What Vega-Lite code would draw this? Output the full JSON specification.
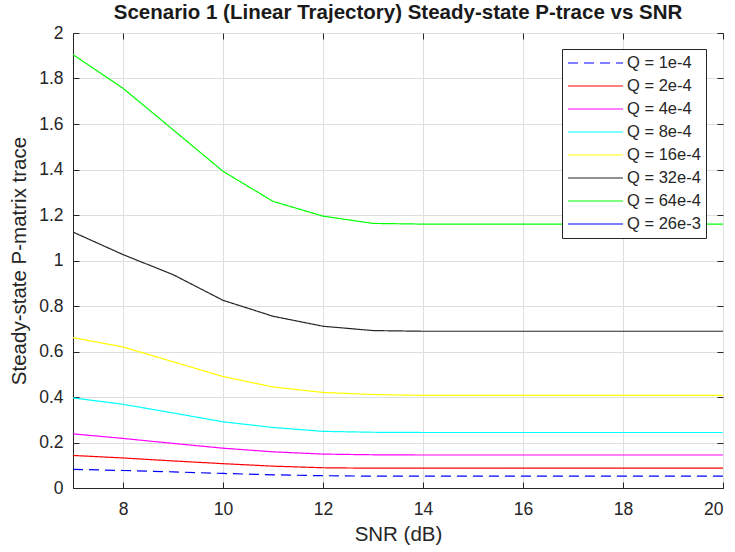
{
  "$schema": "https://vega.github.io/schema/vega-lite/v6.json",
  "width": 650,
  "height": 455,
  "autosize": {"type": "none"},
  "padding": {"left": 73, "top": 33, "right": 12, "bottom": 64},
  "background": "white",
  "config": {
    "font": "Liberation Sans",
    "view": {"stroke": "#262626", "strokeWidth": 1},
    "axis": {"labelFont": "Liberation Sans", "titleFont": "Liberation Sans", "labelColor": "#262626", "titleColor": "#262626", "domainColor": "#262626", "tickColor": "#262626", "gridColor": "#dedede", "labelFontSize": 17.5, "titleFontSize": 20.5, "titleFontWeight": "normal"}
  },
  "title": {"text": "Scenario 1 (Linear Trajectory) Steady-state P-trace vs SNR", "fontSize": 20.5, "fontWeight": "bold", "color": "#1a1a1a", "font": "Liberation Sans", "anchor": "middle", "offset": 1},
  "data": {"values": [
    {"snr":7,"q":"Q = 1e-4","v":0.082},{"snr":8,"q":"Q = 1e-4","v":0.077},{"snr":9,"q":"Q = 1e-4","v":0.071},{"snr":10,"q":"Q = 1e-4","v":0.064},{"snr":11,"q":"Q = 1e-4","v":0.058},{"snr":12,"q":"Q = 1e-4","v":0.054},{"snr":13,"q":"Q = 1e-4","v":0.052},{"snr":14,"q":"Q = 1e-4","v":0.052},{"snr":15,"q":"Q = 1e-4","v":0.052},{"snr":16,"q":"Q = 1e-4","v":0.052},{"snr":17,"q":"Q = 1e-4","v":0.052},{"snr":18,"q":"Q = 1e-4","v":0.052},{"snr":19,"q":"Q = 1e-4","v":0.052},{"snr":20,"q":"Q = 1e-4","v":0.052},
    {"snr":7,"q":"Q = 2e-4","v":0.143},{"snr":8,"q":"Q = 2e-4","v":0.132},{"snr":9,"q":"Q = 2e-4","v":0.119},{"snr":10,"q":"Q = 2e-4","v":0.107},{"snr":11,"q":"Q = 2e-4","v":0.096},{"snr":12,"q":"Q = 2e-4","v":0.089},{"snr":13,"q":"Q = 2e-4","v":0.087},{"snr":14,"q":"Q = 2e-4","v":0.087},{"snr":15,"q":"Q = 2e-4","v":0.087},{"snr":16,"q":"Q = 2e-4","v":0.087},{"snr":17,"q":"Q = 2e-4","v":0.087},{"snr":18,"q":"Q = 2e-4","v":0.087},{"snr":19,"q":"Q = 2e-4","v":0.087},{"snr":20,"q":"Q = 2e-4","v":0.087},
    {"snr":7,"q":"Q = 4e-4","v":0.238},{"snr":8,"q":"Q = 4e-4","v":0.218},{"snr":9,"q":"Q = 4e-4","v":0.196},{"snr":10,"q":"Q = 4e-4","v":0.175},{"snr":11,"q":"Q = 4e-4","v":0.159},{"snr":12,"q":"Q = 4e-4","v":0.149},{"snr":13,"q":"Q = 4e-4","v":0.146},{"snr":14,"q":"Q = 4e-4","v":0.145},{"snr":15,"q":"Q = 4e-4","v":0.145},{"snr":16,"q":"Q = 4e-4","v":0.145},{"snr":17,"q":"Q = 4e-4","v":0.145},{"snr":18,"q":"Q = 4e-4","v":0.145},{"snr":19,"q":"Q = 4e-4","v":0.145},{"snr":20,"q":"Q = 4e-4","v":0.145},
    {"snr":7,"q":"Q = 8e-4","v":0.396},{"snr":8,"q":"Q = 8e-4","v":0.368},{"snr":9,"q":"Q = 8e-4","v":0.330},{"snr":10,"q":"Q = 8e-4","v":0.291},{"snr":11,"q":"Q = 8e-4","v":0.266},{"snr":12,"q":"Q = 8e-4","v":0.249},{"snr":13,"q":"Q = 8e-4","v":0.245},{"snr":14,"q":"Q = 8e-4","v":0.244},{"snr":15,"q":"Q = 8e-4","v":0.244},{"snr":16,"q":"Q = 8e-4","v":0.244},{"snr":17,"q":"Q = 8e-4","v":0.244},{"snr":18,"q":"Q = 8e-4","v":0.244},{"snr":19,"q":"Q = 8e-4","v":0.244},{"snr":20,"q":"Q = 8e-4","v":0.244},
    {"snr":7,"q":"Q = 16e-4","v":0.661},{"snr":8,"q":"Q = 16e-4","v":0.620},{"snr":9,"q":"Q = 16e-4","v":0.555},{"snr":10,"q":"Q = 16e-4","v":0.490},{"snr":11,"q":"Q = 16e-4","v":0.444},{"snr":12,"q":"Q = 16e-4","v":0.420},{"snr":13,"q":"Q = 16e-4","v":0.411},{"snr":14,"q":"Q = 16e-4","v":0.407},{"snr":15,"q":"Q = 16e-4","v":0.407},{"snr":16,"q":"Q = 16e-4","v":0.407},{"snr":17,"q":"Q = 16e-4","v":0.407},{"snr":18,"q":"Q = 16e-4","v":0.407},{"snr":19,"q":"Q = 16e-4","v":0.407},{"snr":20,"q":"Q = 16e-4","v":0.407},
    {"snr":7,"q":"Q = 32e-4","v":1.125},{"snr":8,"q":"Q = 32e-4","v":1.026},{"snr":9,"q":"Q = 32e-4","v":0.938},{"snr":10,"q":"Q = 32e-4","v":0.825},{"snr":11,"q":"Q = 32e-4","v":0.755},{"snr":12,"q":"Q = 32e-4","v":0.711},{"snr":13,"q":"Q = 32e-4","v":0.692},{"snr":14,"q":"Q = 32e-4","v":0.689},{"snr":15,"q":"Q = 32e-4","v":0.689},{"snr":16,"q":"Q = 32e-4","v":0.689},{"snr":17,"q":"Q = 32e-4","v":0.689},{"snr":18,"q":"Q = 32e-4","v":0.689},{"snr":19,"q":"Q = 32e-4","v":0.689},{"snr":20,"q":"Q = 32e-4","v":0.689},
    {"snr":7,"q":"Q = 64e-4","v":1.905},{"snr":8,"q":"Q = 64e-4","v":1.757},{"snr":9,"q":"Q = 64e-4","v":1.575},{"snr":10,"q":"Q = 64e-4","v":1.392},{"snr":11,"q":"Q = 64e-4","v":1.260},{"snr":12,"q":"Q = 64e-4","v":1.195},{"snr":13,"q":"Q = 64e-4","v":1.163},{"snr":14,"q":"Q = 64e-4","v":1.160},{"snr":15,"q":"Q = 64e-4","v":1.160},{"snr":16,"q":"Q = 64e-4","v":1.160},{"snr":17,"q":"Q = 64e-4","v":1.160},{"snr":18,"q":"Q = 64e-4","v":1.160},{"snr":19,"q":"Q = 64e-4","v":1.160},{"snr":20,"q":"Q = 64e-4","v":1.160},
    {"snr":7,"q":"Q = 26e-3","v":3.9},{"snr":8,"q":"Q = 26e-3","v":3.6},{"snr":9,"q":"Q = 26e-3","v":3.2},{"snr":10,"q":"Q = 26e-3","v":2.85},{"snr":11,"q":"Q = 26e-3","v":2.6},{"snr":12,"q":"Q = 26e-3","v":2.48},{"snr":13,"q":"Q = 26e-3","v":2.43},{"snr":14,"q":"Q = 26e-3","v":2.42},{"snr":15,"q":"Q = 26e-3","v":2.42},{"snr":16,"q":"Q = 26e-3","v":2.42},{"snr":17,"q":"Q = 26e-3","v":2.42},{"snr":18,"q":"Q = 26e-3","v":2.42},{"snr":19,"q":"Q = 26e-3","v":2.42},{"snr":20,"q":"Q = 26e-3","v":2.42}
  ]},
  "layer": [
    {
      "mark": {"type": "line", "strokeWidth": 1.2, "clip": true},
      "encoding": {
        "x": {"field": "snr", "type": "quantitative", "scale": {"domain": [7, 20], "nice": false, "zero": false}, "axis": {"title": "SNR (dB)", "values": [8,10,12,14,16,18,20], "tickSize": -6, "labelPadding": 18, "titlePadding": 7, "grid": true, "domain": true}},
        "y": {"field": "v", "type": "quantitative", "scale": {"domain": [0, 2], "nice": false}, "axis": {"title": "Steady-state P-matrix trace", "values": [0,0.2,0.4,0.6,0.8,1,1.2,1.4,1.6,1.8,2], "format": ".1~f", "tickSize": -6, "labelPadding": 16, "titlePadding": 9, "grid": true}},
        "color": {"field": "q", "type": "nominal", "sort": null,
          "scale": {"domain": ["Q = 1e-4","Q = 2e-4","Q = 4e-4","Q = 8e-4","Q = 16e-4","Q = 32e-4","Q = 64e-4","Q = 26e-3"], "range": ["#0000ff","#ff0000","#ff00ff","#00ffff","#ffff00","#262626","#00ff00","#0000ff"]},
          "legend": {"title": null, "orient": "none", "legendX": 489, "legendY": 16, "symbolType": "M-3.4375,0H3.4375", "symbolSize": 256, "symbolOffset": 19.5, "symbolStrokeWidth": 1.2, "labelFontSize": 16.5, "labelColor": "#262626", "labelFont": "Liberation Sans", "rowPadding": 5, "padding": 5, "strokeColor": "#262626", "fillColor": "white", "labelOffset": 22.5}},
        "strokeDash": {"field": "q", "type": "nominal", "sort": null,
          "scale": {"domain": ["Q = 1e-4","Q = 2e-4","Q = 4e-4","Q = 8e-4","Q = 16e-4","Q = 32e-4","Q = 64e-4","Q = 26e-3"], "range": [[10,6],[1,0],[1,0],[1,0],[1,0],[1,0],[1,0],[1,0]]},
          "legend": {"title": null}}
      }
    },
    {
      "mark": {"type": "line", "strokeOpacity": 0, "clip": true},
      "encoding": {
        "x": {"field": "snr", "type": "quantitative", "axis": {"orient": "top", "labels": false, "title": null, "values": [8,10,12,14,16,18,20], "tickSize": -6, "grid": false, "domain": false}},
        "y": {"field": "v", "type": "quantitative", "axis": {"orient": "right", "labels": false, "title": null, "values": [0,0.2,0.4,0.6,0.8,1,1.2,1.4,1.6,1.8,2], "tickSize": -6, "grid": false, "domain": false}},
        "detail": {"field": "q"}
      }
    }
  ],
  "resolve": {"axis": {"x": "independent", "y": "independent"}}
}
